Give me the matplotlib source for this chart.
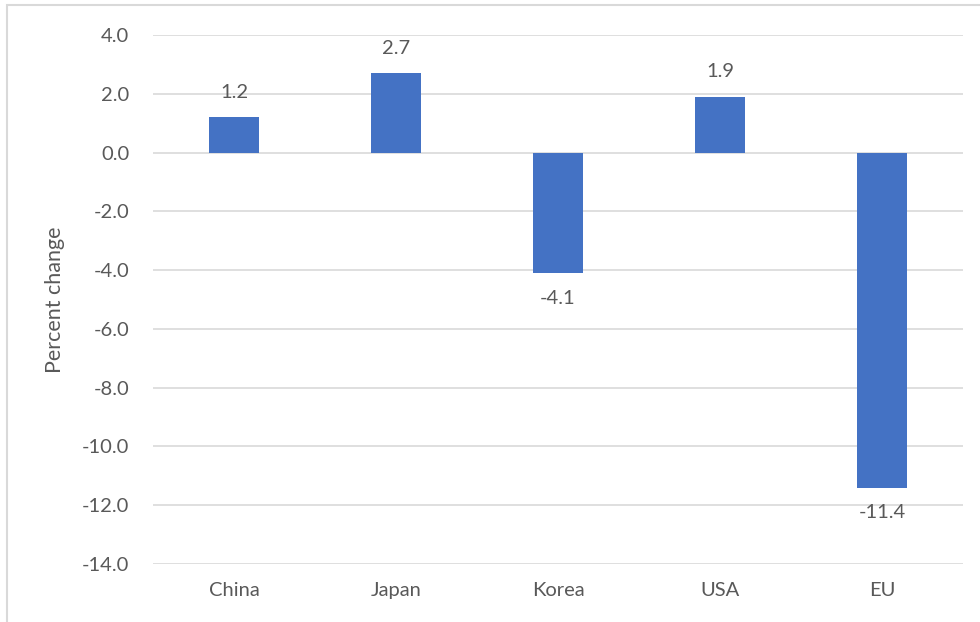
import matplotlib.pyplot as plt
from matplotlib.patches import Rectangle

regions = ["China", "Japan", "Korea", "USA", "EU"]
change = [1.2, 2.7, -4.1, 1.9, -11.4]
yticks = [4.0, 2.0, 0.0, -2.0, -4.0, -6.0, -8.0, -10.0, -12.0, -14.0]

txt = "#595959"
plt.rcParams["font.family"] = ["Lato", "DejaVu Sans"]

fig = plt.figure(figsize=(9.8, 6.22), dpi=100)
ax = fig.add_axes([153 / 980, 1 - 564 / 622, 810 / 980, 529 / 622])

xs = range(len(regions))
ax.bar(xs, change, width=0.31, color="#4472C4", zorder=3)

for x, v in zip(xs, change):
    off = 18 if v >= 0 else -18
    ax.annotate(f"{v:.1f}", (x, v), xytext=(0, off), textcoords="offset points",
                ha="center", va="center", fontsize=14.5, color=txt)

ax.set_xlim(-0.5, len(regions) - 0.5)
ax.set_ylim(-14, 4)
ax.set_yticks(yticks)
ax.set_yticklabels([f"{t:.1f}" for t in yticks])
ax.set_xticks(list(xs))
ax.set_xticklabels(regions)
ax.tick_params(axis="both", length=0, labelsize=14.5, colors=txt)
ax.tick_params(axis="y", pad=17)
ax.tick_params(axis="x", pad=13)
ax.grid(axis="y", color="#D9D9D9", linewidth=1.2, zorder=0)
for s in ax.spines.values():
    s.set_visible(False)
ax.set_ylabel("Percent change", fontsize=15.5, color=txt, labelpad=12)

# light frame round the whole chart area
fig.patches.append(Rectangle((7 / 980, -0.05), 1.1, 1 - 5 / 622 + 0.05,
                             transform=fig.transFigure, fill=False,
                             edgecolor="#D9D9D9", linewidth=1.5))

fig.savefig("out.png", dpi=100)
